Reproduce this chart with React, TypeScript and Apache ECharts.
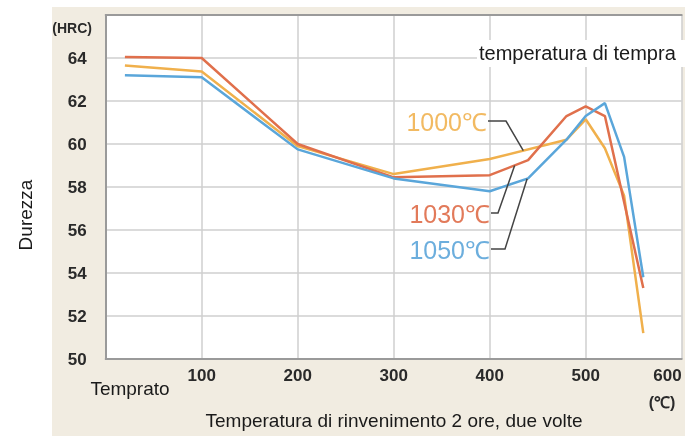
import React, { useEffect, useRef } from "react";
import * as echarts from "echarts";

// Tempering temperature (°C) and hardness (HRC) for each quench temperature
const temp1000 = [20, 100, 200, 300, 400, 480, 500, 520, 540, 560];
const hrc1000 = [63.65, 63.37, 59.9, 58.6, 59.3, 60.2, 61.15, 59.8, 57.6, 51.2];

const temp1030 = [20, 100, 200, 300, 400, 440, 480, 500, 520, 560];
const hrc1030 = [64.05, 64.0, 60.0, 58.45, 58.55, 59.25, 61.3, 61.75, 61.3, 53.3];

const temp1050 = [20, 100, 200, 300, 400, 440, 480, 500, 520, 540, 560];
const hrc1050 = [63.2, 63.1, 59.75, 58.4, 57.8, 58.4, 60.2, 61.3, 61.9, 59.4, 53.8];

const seriesNames = ["1000℃", "1030℃", "1050℃"];
const seriesColors = ["#F0B04C", "#E0704C", "#5AA6DA"];
const labelColors = ["#F2BA62", "#E27A5A", "#6CAEDD"];

// Leader line anchors on curves (data x) for each label
const leaderAnchorX = [435, 426, 439];

const FONT = "'Liberation Sans', Arial, sans-serif";

function interp(xs: number[], ys: number[], x: number) {
  for (let i = 0; i < xs.length - 1; i++) {
    if (x >= xs[i] && x <= xs[i + 1]) {
      const t = (x - xs[i]) / (xs[i + 1] - xs[i]);
      return ys[i] + t * (ys[i + 1] - ys[i]);
    }
  }
  return ys[ys.length - 1];
}

export default function App() {
  const ref = useRef<HTMLDivElement>(null);
  useEffect(() => {
    if (!ref.current) return;
    const chart = echarts.init(ref.current, undefined, { renderer: "svg" });
    const pairs = (xs: number[], ys: number[]) => xs.map((x, i) => [x, ys[i]]);
    const allX = [temp1000, temp1030, temp1050];
    const allY = [hrc1000, hrc1030, hrc1050];

    const axisCommon = {
      type: "value" as const,
      min: 0,
      max: 600,
      interval: 100,
    };

    const option: any = {
      animation: false,
      grid: {
        left: 105.7,
        right: 3.3,
        top: 15,
        bottom: 77,
        show: true,
        backgroundColor: "#ffffff",
        borderWidth: 0,
        z: 0,
      },
      xAxis: [
        {
          ...axisCommon,
          position: "bottom",
          z: 2,
          axisLine: { show: true, lineStyle: { color: "#9a9a9a", width: 2 } },
          axisTick: { show: false },
          splitLine: { show: true, lineStyle: { color: "#cfcfcf", width: 1.5 } },
          axisLabel: {
            margin: 8,
            color: "#2a2a2a",
            fontFamily: FONT,
            fontWeight: "bold",
            fontSize: 17,
            alignMaxLabel: "right",
            formatter: (v: number) => (v === 0 ? "" : String(v)),
          },
        },
        {
          ...axisCommon,
          position: "top",
          z: 2,
          axisLine: { show: true, lineStyle: { color: "#9a9a9a", width: 2 } },
          axisTick: { show: false },
          splitLine: { show: false },
          axisLabel: { show: false },
        },
      ],
      yAxis: {
        type: "value",
        min: 50,
        max: 66,
        interval: 2,
        z: 2,
        axisLine: { show: true, lineStyle: { color: "#9a9a9a", width: 2 } },
        axisTick: { show: false },
        splitLine: { show: true, lineStyle: { color: "#cfcfcf", width: 1.5 } },
        axisLabel: {
          margin: 19,
          color: "#2a2a2a",
          fontFamily: FONT,
          fontWeight: "bold",
          fontSize: 17,
          formatter: (v: number) => (v === 66 ? "" : String(v)),
        },
      },
      series: seriesNames.map((name, i) => ({
        name,
        type: "line",
        data: pairs(allX[i], allY[i]),
        showSymbol: false,
        symbol: "none",
        lineStyle: { color: seriesColors[i], width: 2.5 },
        z: 5 + i,
      })),
    };
    chart.setOption(option);

    const pt = (x: number, y: number) => chart.convertToPixel({ gridIndex: 0 }, [x, y]) as number[];
    const anchors = leaderAnchorX.map((x, i) => pt(x, interp(allX[i], allY[i], x)));

    const labelPos = [
      { x: 487, y: 121, elbow: 506 },
      { x: 490, y: 213, elbow: 498 },
      { x: 490, y: 249, elbow: 505 },
    ];

    const graphic: any[] = [
      {
        type: "rect",
        z: -10,
        silent: true,
        shape: { x: 52, y: 7, width: 633, height: 429 },
        style: { fill: "#f1ece1" },
      },
      {
        type: "rect",
        z: 50,
        shape: { x: 477, y: 40, width: 208, height: 27 },
        style: { fill: "#ffffff" },
      },
      {
        type: "text",
        z: 51,
        x: 479,
        y: 53,
        style: {
          text: "temperatura di tempra",
          font: `20px ${FONT}`,
          fill: "#1a1a1a",
          textAlign: "left",
          textVerticalAlign: "middle",
        },
      },
      {
        type: "text",
        z: 51,
        x: 92,
        y: 28,
        style: {
          text: "(HRC)",
          font: `bold 14px ${FONT}`,
          fill: "#2a2a2a",
          textAlign: "right",
          textVerticalAlign: "middle",
        },
      },
      {
        type: "text",
        z: 51,
        x: 25,
        y: 215,
        rotation: Math.PI / 2,
        style: {
          text: "Durezza",
          font: `19px ${FONT}`,
          fill: "#1a1a1a",
          textAlign: "center",
          textVerticalAlign: "middle",
        },
      },
      {
        type: "text",
        z: 51,
        x: 130,
        y: 388,
        style: {
          text: "Temprato",
          font: `19px ${FONT}`,
          fill: "#1a1a1a",
          textAlign: "center",
          textVerticalAlign: "middle",
        },
      },
      {
        type: "text",
        z: 51,
        x: 394,
        y: 420,
        style: {
          text: "Temperatura di rinvenimento 2 ore, due volte",
          font: `19px ${FONT}`,
          fill: "#1a1a1a",
          textAlign: "center",
          textVerticalAlign: "middle",
        },
      },
      {
        type: "text",
        z: 51,
        x: 662,
        y: 402,
        style: {
          text: "(℃)",
          font: `bold 16px ${FONT}`,
          fill: "#2a2a2a",
          textAlign: "center",
          textVerticalAlign: "middle",
        },
      },
    ];

    seriesNames.forEach((name, i) => {
      const lp = labelPos[i];
      graphic.push({
        type: "text",
        z: 52,
        x: lp.x,
        y: lp.y + 1,
        style: {
          text: name,
          font: `25px ${FONT}`,
          fill: labelColors[i],
          textAlign: "right",
          textVerticalAlign: "middle",
        },
      });
      graphic.push({
        type: "polyline",
        z: 52,
        shape: {
          points: [
            [lp.x + 1, lp.y],
            [lp.elbow, lp.y],
            [anchors[i][0], anchors[i][1]],
          ],
        },
        style: { stroke: "#444444", lineWidth: 1.5, fill: null },
      });
    });

    chart.setOption({ graphic });

    return () => chart.dispose();
  }, []);

  return (
    <div
      ref={ref}
      style={{ position: "fixed", left: 0, top: 0, width: 685, height: 436 }}
    />
  );
}
